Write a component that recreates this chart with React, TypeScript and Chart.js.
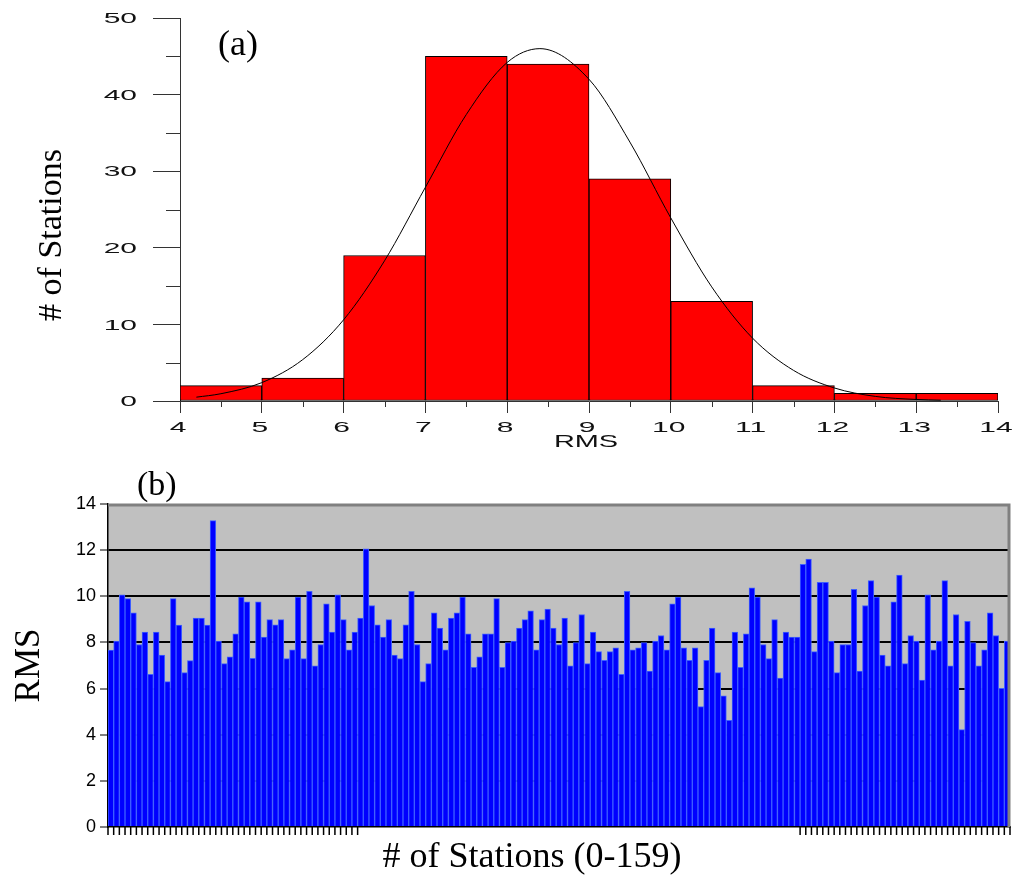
import React, { useEffect, useRef } from 'react';
import { Chart, registerables } from 'chart.js';

Chart.register(...registerables);

// ---------- Panel (a): histogram of RMS ----------
const binCenters = [4.5, 5.5, 6.5, 7.5, 8.5, 9.5, 10.5, 11.5, 12.5, 13.5];
const binCounts = [2, 3, 19, 45, 44, 29, 13, 2, 1, 1];

const curveX = [4.2, 4.5, 5, 5.5, 6, 6.5, 7, 7.5, 8, 8.4, 9, 9.5, 10, 10.5, 11, 11.5, 12, 12.5, 13, 13.3];
const curveY = [0.5, 0.95, 2.4, 5.4, 10.6, 18.3, 27.9, 37.4, 44.2, 46, 42, 33.8, 23.9, 14.9, 8.2, 4.0, 1.7, 0.6, 0.2, 0.1];

const yTickLabelsA = [0, 10, 20, 30, 40, 50];
const xTickLabelsA = [4, 5, 6, 7, 8, 9, 10, 11, 12, 13, 14];
const minorYTicksA = [5, 15, 25, 35, 45];
const minorXTicksA = [4.5, 5.5, 6.5, 7.5, 8.5, 9.5, 10.5, 11.5, 12.5, 13.5];

// ---------- Panel (b): RMS per station ----------
const rmsValues = [
  7.67, 8.06, 10.06, 9.9, 9.28, 7.91, 8.45, 6.62, 8.45, 7.45,
  6.3, 9.9, 8.75, 6.69, 7.21, 9.06, 9.06, 8.75, 13.28, 8.06,
  7.08, 7.38, 8.37, 9.97, 9.76, 7.31, 9.76, 8.23, 8.99, 8.76,
  8.99, 7.3, 7.68, 9.97, 7.3, 10.22, 6.99, 7.91, 9.67, 8.45,
  10.06, 8.99, 7.68, 8.45, 9.06, 12.06, 9.6, 8.76, 8.23, 8.99,
  7.45, 7.3, 8.76, 10.22, 7.91, 6.3, 7.08, 9.28, 8.62, 7.68,
  9.06, 9.28, 9.97, 8.37, 6.92, 7.38, 8.37, 8.37, 9.9, 6.92,
  7.99, 8.06, 8.62, 8.99, 9.37, 7.68, 8.99, 9.45, 8.62, 7.91,
  9.06, 6.99, 7.99, 9.21, 7.08, 8.45, 7.6, 7.22, 7.6, 7.77,
  6.62, 10.22, 7.68, 7.77, 7.99, 6.76, 8.06, 8.3, 7.68, 9.67,
  9.97, 7.77, 7.22, 7.77, 5.22, 7.22, 8.62, 6.69, 5.68, 4.62,
  8.45, 6.92, 8.37, 10.37, 9.97, 7.91, 7.3, 8.99, 6.45, 8.45,
  8.23, 8.23, 11.38, 11.61, 7.6, 10.6, 10.6, 8.06, 6.69, 7.91,
  7.91, 10.3, 6.76, 9.6, 10.68, 9.97, 7.45, 6.99, 9.76, 10.92,
  7.08, 8.3, 8.06, 6.37, 10.06, 7.68, 8.06, 10.68, 6.99, 9.21,
  4.22, 8.91, 7.99, 6.99, 7.68, 9.28, 8.3, 6.01, 8.06,
];
const stationLabels = rmsValues.map((_, i) => String(i));
// tick marks appear only on these station index ranges in the original
const tickRanges = [[0, 44], [122, 159]];

const SERIF = '"Liberation Serif", "Times New Roman", serif';
const SANS = '"Liberation Sans", Arial, sans-serif';

function stretchedText(ctx: CanvasRenderingContext2D, text: string, x: number, y: number, sx: number, align: CanvasTextAlign) {
  ctx.save();
  ctx.translate(x, y);
  ctx.scale(sx, 1);
  ctx.textAlign = align;
  ctx.textBaseline = 'middle';
  ctx.fillText(text, 0, 0);
  ctx.restore();
}

function HistogramChart() {
  const ref = useRef<HTMLCanvasElement | null>(null);
  useEffect(() => {
    const canvas = ref.current;
    if (!canvas) return;
    const overlay = {
      id: 'overlayA',
      afterDraw(chart: any) {
        const { ctx, chartArea, scales } = chart;
        const xs = scales.x;
        const ys = scales.y;
        ctx.save();
        ctx.strokeStyle = '#333';
        ctx.lineWidth = 1;
        ctx.beginPath();
        minorYTicksA.forEach((v) => {
          const y = Math.round(ys.getPixelForValue(v)) + 0.5;
          ctx.moveTo(chartArea.left - 14, y);
          ctx.lineTo(chartArea.left, y);
        });
        minorXTicksA.forEach((v) => {
          const x = Math.round(xs.getPixelForValue(v)) + 0.5;
          ctx.moveTo(x, chartArea.bottom);
          ctx.lineTo(x, chartArea.bottom + 6);
        });
        ctx.stroke();

        // tick labels (wide, horizontally stretched sans as in the original)
        ctx.fillStyle = '#111';
        ctx.font = `15px ${SANS}`;
        yTickLabelsA.forEach((v) => {
          stretchedText(ctx, String(v), chartArea.left - 43, ys.getPixelForValue(v) + 1, 2.0, 'right');
        });
        xTickLabelsA.forEach((v) => {
          stretchedText(ctx, String(v), xs.getPixelForValue(v) - 2, chartArea.bottom + 27, 2.0, 'center');
        });
        ctx.font = `17px ${SANS}`;
        stretchedText(ctx, 'RMS', (chartArea.left + chartArea.right) / 2 - 3, chartArea.bottom + 41, 1.7, 'center');

        ctx.fillStyle = '#000';
        ctx.font = `36px ${SERIF}`;
        ctx.textAlign = 'left';
        ctx.textBaseline = 'alphabetic';
        ctx.fillText('(a)', 218, 55);
        ctx.translate(52, 235);
        ctx.rotate(-Math.PI / 2);
        ctx.font = `34px ${SERIF}`;
        ctx.textAlign = 'center';
        ctx.textBaseline = 'middle';
        ctx.fillText('# of Stations', 0, 0);
        ctx.restore();
      },
    };
    const chart = new Chart(canvas, {
      type: 'bar',
      data: {
        datasets: [
          {
            type: 'line',
            data: curveX.map((x, i) => ({ x, y: curveY[i] })),
            borderColor: '#000',
            borderWidth: 1,
            pointRadius: 0,
            fill: false,
            cubicInterpolationMode: 'monotone',
            order: 1,
          } as any,
          {
            type: 'bar',
            data: binCenters.map((x, i) => ({ x, y: binCounts[i] })),
            backgroundColor: '#ff0000',
            borderColor: '#000',
            borderWidth: 1,
            borderSkipped: false,
            barPercentage: 1,
            categoryPercentage: 1,
            order: 2,
          } as any,
        ],
      },
      options: {
        responsive: false,
        animation: false,
        layout: { padding: { top: 18, right: 25, left: 0, bottom: 0 } },
        plugins: { legend: { display: false }, tooltip: { enabled: false }, title: { display: false } },
        scales: {
          x: {
            type: 'linear',
            min: 4,
            max: 14,
            offset: false,
            ticks: { stepSize: 1, display: false },
            grid: { display: true, drawOnChartArea: false, drawTicks: true, tickLength: 12, color: '#333', offset: false },
            border: { display: true, color: '#333', width: 1 },
            afterFit: (s: any) => { s.height = 59; s.paddingLeft = 0; s.paddingRight = 0; },
          },
          y: {
            min: 0,
            max: 50,
            ticks: { stepSize: 10, display: false },
            grid: { display: true, drawOnChartArea: false, drawTicks: true, tickLength: 27, color: '#333' },
            border: { display: true, color: '#333', width: 1 },
            afterFit: (s: any) => { s.width = 180; s.paddingTop = 0; s.paddingBottom = 0; },
          },
        },
      } as any,
      plugins: [overlay],
    });
    return () => chart.destroy();
  }, []);
  return (
    <canvas
      ref={ref}
      width={1023}
      height={460}
      style={{ position: 'absolute', left: 0, top: 0, width: 1023, height: 460 }}
    />
  );
}

function StationsChart() {
  const ref = useRef<HTMLCanvasElement | null>(null);
  useEffect(() => {
    const canvas = ref.current;
    if (!canvas) return;
    const bgPlugin = {
      id: 'bgB',
      beforeDraw(chart: any) {
        const { ctx, chartArea } = chart;
        ctx.save();
        ctx.fillStyle = '#c0c0c0';
        ctx.fillRect(chartArea.left, chartArea.top, chartArea.right - chartArea.left, chartArea.bottom - chartArea.top);
        ctx.restore();
      },
      afterDraw(chart: any) {
        const { ctx, chartArea } = chart;
        const n = rmsValues.length;
        const w = (chartArea.right - chartArea.left) / n;
        ctx.save();
        // gray frame on top and right
        ctx.strokeStyle = '#808080';
        ctx.lineWidth = 3;
        ctx.beginPath();
        ctx.moveTo(chartArea.left, chartArea.top + 1);
        ctx.lineTo(chartArea.right - 1, chartArea.top + 1);
        ctx.lineTo(chartArea.right - 1, chartArea.bottom);
        ctx.stroke();
        // x tick marks
        ctx.strokeStyle = '#000';
        ctx.lineWidth = 1.5;
        ctx.beginPath();
        tickRanges.forEach(([a, b]) => {
          for (let i = a; i <= b; i++) {
            const x = chartArea.left + i * w;
            ctx.moveTo(x, chartArea.bottom);
            ctx.lineTo(x, chartArea.bottom + 8);
          }
        });
        ctx.stroke();
        ctx.fillStyle = '#000';
        ctx.font = `34px ${SERIF}`;
        ctx.textAlign = 'left';
        ctx.textBaseline = 'alphabetic';
        ctx.fillText('(b)', 137, 35);
        ctx.font = `36px ${SERIF}`;
        ctx.textAlign = 'center';
        ctx.textBaseline = 'middle';
        ctx.fillText('# of Stations (0-159)', 532, 398);
        ctx.restore();
      },
    };
    const chart = new Chart(canvas, {
      type: 'bar',
      data: {
        labels: stationLabels,
        datasets: [
          {
            data: rmsValues,
            backgroundColor: '#0000ff',
            borderColor: '#3d5eff',
            borderWidth: 1,
            borderSkipped: 'start',
            barPercentage: 1,
            categoryPercentage: 1,
          },
        ],
      },
      options: {
        responsive: false,
        animation: false,
        layout: { padding: { top: 44, right: 13, left: 0, bottom: 0 } },
        plugins: { legend: { display: false }, tooltip: { enabled: false }, title: { display: false } },
        scales: {
          x: {
            type: 'category',
            ticks: { display: false },
            grid: { display: false },
            border: { display: true, color: '#000', width: 1.5 },
            afterFit: (s: any) => { s.height = 49; },
          },
          y: {
            min: 0,
            max: 14,
            ticks: {
              stepSize: 2,
              color: '#000',
              padding: 4,
              font: { family: SANS, size: 18 },
            },
            grid: {
              display: true,
              drawOnChartArea: true,
              drawTicks: true,
              tickLength: 8,
              lineWidth: 2,
              color: (c: any) => (c.tick && (c.tick.value === 14 || c.tick.value === 0) ? 'rgba(0,0,0,0)' : '#000'),
              tickColor: '#000',
              tickWidth: 1,
            },
            border: { display: true, color: '#000', width: 1.5 },
            title: {
              display: true,
              text: 'RMS',
              color: '#000',
              font: { family: SERIF, size: 35, lineHeight: 1 },
              padding: { top: 12, bottom: 0 },
            },
            afterFit: (s: any) => { s.width = 108; },
          },
        },
      } as any,
      plugins: [bgPlugin],
    });
    return () => chart.destroy();
  }, []);
  return (
    <canvas
      ref={ref}
      width={1023}
      height={416}
      style={{ position: 'absolute', left: 0, top: 460, width: 1023, height: 416 }}
    />
  );
}

export default function App() {
  return (
    <div style={{ position: 'absolute', left: 0, top: 0, width: 1023, height: 876, background: '#fff' }}>
      <HistogramChart />
      <StationsChart />
    </div>
  );
}
